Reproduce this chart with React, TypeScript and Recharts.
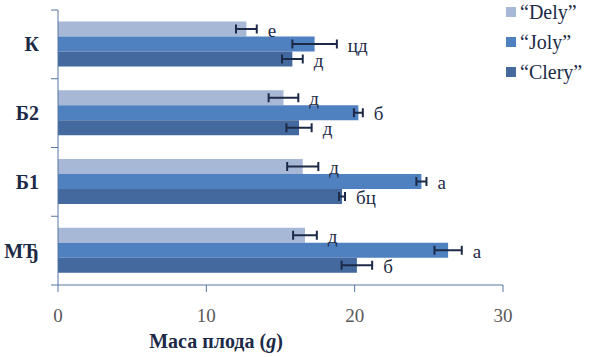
import React from 'react';
import { BarChart, Bar, XAxis, YAxis, ErrorBar, LabelList, Legend } from 'recharts';

const categories = ['К', 'Б2', 'Б1', 'МЂ'];
const delyValues = [12.7, 15.2, 16.5, 16.65];
const jolyValues = [17.3, 20.25, 24.5, 26.3];
const cleryValues = [15.8, 16.25, 19.15, 20.15];
const delyErr = [0.7, 1.0, 1.05, 0.8];
const jolyErr = [1.5, 0.3, 0.34, 0.92];
const cleryErr = [0.7, 0.85, 0.2, 1.03];
const delyLetters = ['е', 'д', 'д', 'д'];
const jolyLetters = ['цд', 'б', 'а', 'а'];
const cleryLetters = ['д', 'д', 'бц', 'б'];
const xTicks = [0, 10, 20, 30];

const COLORS = { dely: '#a7b7d6', joly: '#4f80bf', clery: '#43699e' };
const SERIF = 'Liberation Serif, Tinos, DejaVu Serif, Noto Serif, serif';
const DARK = '#1c2a47';
const AXIS = '#5676a3';

const data = categories.map((c, i) => ({
  cat: c,
  dely: delyValues[i],
  joly: jolyValues[i],
  clery: cleryValues[i],
  delyErr: delyErr[i],
  jolyErr: jolyErr[i],
  cleryErr: cleryErr[i],
}));

const makeLabel = (letters: string[], errs: number[]) => (props: any) => {
  const vb = props.viewBox || props;
  const x = Number(props.x ?? vb.x);
  const y = Number(props.y ?? vb.y);
  const width = Number(props.width ?? vb.width);
  const height = Number(props.height ?? vb.height);
  const value = Number(props.value);
  const index = props.index;
  const ppu = value ? width / value : 0;
  const ex = x + width + errs[index] * ppu + 11;
  return (
    <text x={ex} y={y + height / 2 + 1} dominantBaseline="central" style={{ fontFamily: SERIF }} fontSize={19} fill={DARK}>
      {letters[index]}
    </text>
  );
};

const CatTick = (props: any) => {
  const { x, y, payload, index, visibleTicksCount } = props;
  const off = payload && payload.offset ? payload.offset : 0;
  const last = index === (visibleTicksCount ?? categories.length) - 1;
  return (
    <g>
      <line x1={x - 7} x2={x} y1={y - off} y2={y - off} stroke={AXIS} strokeWidth={1} />
      {last && <line x1={x - 7} x2={x} y1={y + off} y2={y + off} stroke={AXIS} strokeWidth={1} />}
      <text x={x - 19} y={y} textAnchor="end" dominantBaseline="central" style={{ fontFamily: SERIF }} fontWeight="bold" fontSize={20} fill={DARK}>
        {payload.value}
      </text>
    </g>
  );
};

const legendItems = [
  { name: '“Dely”', color: COLORS.dely },
  { name: '“Joly”', color: COLORS.joly },
  { name: '“Clery”', color: COLORS.clery },
];

const LegendContent = () => (
  <div>
    {legendItems.map((it) => (
      <div key={it.name} style={{ display: 'flex', alignItems: 'center', height: 30 }}>
        <div style={{ width: 10, height: 10, background: it.color, marginRight: 4 }} />
        <span style={{ fontFamily: SERIF, fontSize: 20, color: DARK, lineHeight: '20px' }}>{it.name}</span>
      </div>
    ))}
  </div>
);

export default function App() {
  return (
    <div style={{ position: 'absolute', left: 0, top: 0, width: 590, height: 357, background: '#fff', fontFamily: SERIF }}>
      <BarChart
        width={590}
        height={357}
        data={data}
        layout="vertical"
        margin={{ top: 10, right: 87, bottom: 0, left: 0 }}
        barCategoryGap={11.5}
        barGap={0}
        style={{ fontFamily: SERIF }}
      >
        <XAxis
          type="number"
          domain={[0, 30]}
          ticks={xTicks}
          height={72}
          tickSize={7}
          tickMargin={17}
          stroke={AXIS}
          tick={{ fontFamily: SERIF, fontSize: 19, fill: '#595959', style: { fontFamily: SERIF } }}
          label={{
            value: 'Маса плода (g)',
            position: 'insideBottomLeft',
            content: (p: any) => {
              const vb = p.viewBox;
              return (
                <text x={vb.x + 158} y={vb.y + vb.height - 9} textAnchor="middle" style={{ fontFamily: SERIF }} fontWeight="bold" fontSize={20} fill={DARK}>
                  Маса плода (<tspan fontStyle="italic">g</tspan>)
                </text>
              );
            },
          }}
        />
        <YAxis
          type="category"
          dataKey="cat"
          width={58}
          stroke={AXIS}
          tickLine={false}
          tickSize={0}
          tickMargin={0}
          tick={<CatTick />}
        />
        <Legend
          layout="horizontal"
          verticalAlign="middle"
          align="center"
          content={<LegendContent />}
          wrapperStyle={{ position: 'absolute', left: 506, top: -3, width: 84 }}
        />
        <Bar dataKey="dely" name="“Dely”" fill={COLORS.dely} isAnimationActive={false}>
          <ErrorBar dataKey="delyErr" direction="x" width={4.5} stroke={DARK} strokeWidth={2} />
          <LabelList dataKey="dely" content={makeLabel(delyLetters, delyErr)} />
        </Bar>
        <Bar dataKey="joly" name="“Joly”" fill={COLORS.joly} isAnimationActive={false}>
          <ErrorBar dataKey="jolyErr" direction="x" width={4.5} stroke={DARK} strokeWidth={2} />
          <LabelList dataKey="joly" content={makeLabel(jolyLetters, jolyErr)} />
        </Bar>
        <Bar dataKey="clery" name="“Clery”" fill={COLORS.clery} isAnimationActive={false}>
          <ErrorBar dataKey="cleryErr" direction="x" width={4.5} stroke={DARK} strokeWidth={2} />
          <LabelList dataKey="clery" content={makeLabel(cleryLetters, cleryErr)} />
        </Bar>
      </BarChart>
    </div>
  );
}
